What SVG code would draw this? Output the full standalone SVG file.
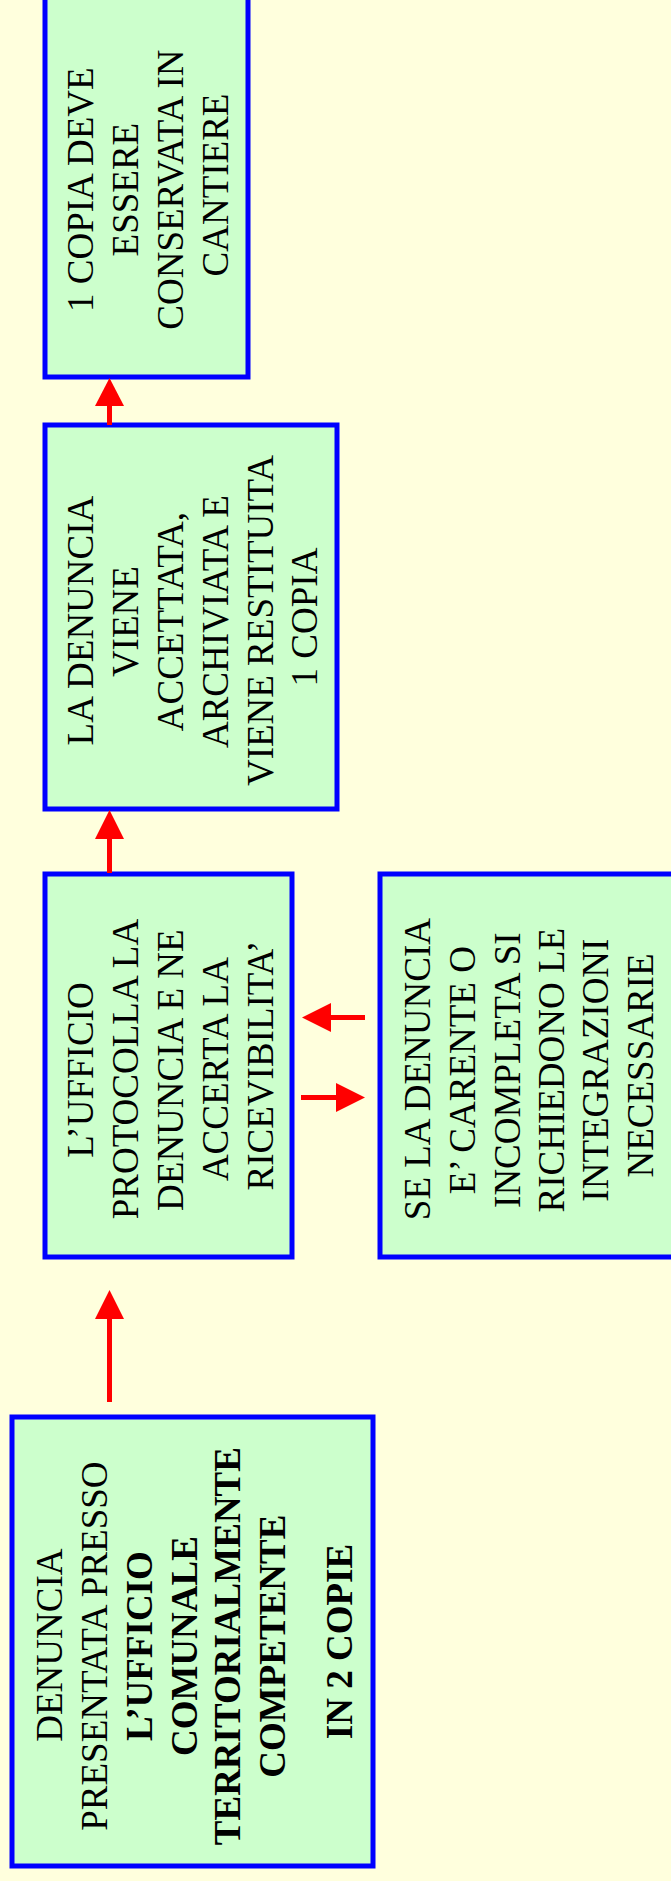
<svg xmlns="http://www.w3.org/2000/svg" width="671" height="1881" viewBox="0 0 671 1881">
<style>
.box{fill:#CCFFCC;stroke:#0000FF;stroke-width:5}
.t{font-family:"Liberation Serif","Times New Roman",serif;font-size:37px;fill:#000;text-anchor:middle}
.b{font-weight:bold}
.shaft{stroke:#FF0000;stroke-width:5;fill:none}
.head{fill:#FF0000}
</style>
<rect x="0" y="0" width="671" height="1881" fill="#FFFFDD"/>
<g id="node-denuncia">
<rect class="box" x="12" y="1417" width="361" height="449"/>
<text class="t" transform="translate(192.5,1641.5) rotate(-90)">
<tspan x="0" y="-130.5">DENUNCIA</tspan>
<tspan x="0" y="-85.5">PRESENTATA PRESSO</tspan>
<tspan class="b" x="0" y="-40.5">L’UFFICIO</tspan>
<tspan class="b" x="0" y="4.5">COMUNALE</tspan>
<tspan class="b" x="0" y="47.5">TERRITORIALMENTE</tspan>
<tspan class="b" x="0" y="92.5">COMPETENTE</tspan>
<tspan class="b" x="0" y="159.5">IN 2 COPIE</tspan>
</text>
</g>
<g id="node-ufficio">
<rect class="box" x="45" y="874" width="247" height="383"/>
<text class="t" transform="translate(168.5,1065.5) rotate(-90)">
<tspan x="0" y="-75.5">L’UFFICIO</tspan>
<tspan x="0" y="-30.5">PROTOCOLLA LA</tspan>
<tspan x="0" y="14.5">DENUNCIA E NE</tspan>
<tspan x="0" y="59.5">ACCERTA LA</tspan>
<tspan x="0" y="104.5">RICEVIBILITA’</tspan>
</text>
</g>
<g id="node-carente">
<rect class="box" x="380" y="874" width="330" height="383"/>
<text class="t" transform="translate(380,1065.5) rotate(-90)">
<tspan x="0" y="50">SE LA DENUNCIA</tspan>
<tspan x="0" y="95">E’ CARENTE O</tspan>
<tspan x="0" y="140">INCOMPLETA SI</tspan>
<tspan x="0" y="184">RICHIEDONO LE</tspan>
<tspan x="0" y="228">INTEGRAZIONI</tspan>
<tspan x="0" y="273">NECESSARIE</tspan>
</text>
</g>
<g id="node-accettata">
<rect class="box" x="45" y="425" width="292" height="384"/>
<text class="t" transform="translate(191,617) rotate(-90)">
<tspan x="0" y="-98">LA DENUNCIA</tspan>
<tspan x="0" y="-53">VIENE</tspan>
<tspan x="0" y="-8">ACCETTATA,</tspan>
<tspan x="0" y="37">ARCHIVIATA E</tspan>
<tspan x="0" y="82">VIENE RESTITUITA</tspan>
<tspan x="0" y="126">1 COPIA</tspan>
</text>
</g>
<g id="node-cantiere">
<rect class="box" x="45" y="-7" width="203" height="384"/>
<text class="t" transform="translate(146.5,185) rotate(-90)">
<tspan x="0" y="-53.5">1 COPIA DEVE</tspan>
<tspan x="0" y="-8.5">ESSERE</tspan>
<tspan x="0" y="36.5">CONSERVATA IN</tspan>
<tspan x="0" y="81.5">CANTIERE</tspan>
</text>
</g>
<g id="connectors">
<line class="shaft" x1="109.5" y1="1402" x2="109.5" y2="1318"/>
<polygon class="head" points="109.5,1290 95,1319 124,1319"/>
<line class="shaft" x1="109.5" y1="873" x2="109.5" y2="838"/>
<polygon class="head" points="109.5,810 95,839 124,839"/>
<line class="shaft" x1="109.5" y1="425" x2="109.5" y2="405"/>
<polygon class="head" points="109.5,378 95,406 124,406"/>
<line class="shaft" x1="365" y1="1017.5" x2="330" y2="1017.5"/>
<polygon class="head" points="302,1017.5 331,1003 331,1032"/>
<line class="shaft" x1="301" y1="1097.5" x2="337" y2="1097.5"/>
<polygon class="head" points="365,1097.5 336,1083 336,1112"/>
</g>
</svg>
